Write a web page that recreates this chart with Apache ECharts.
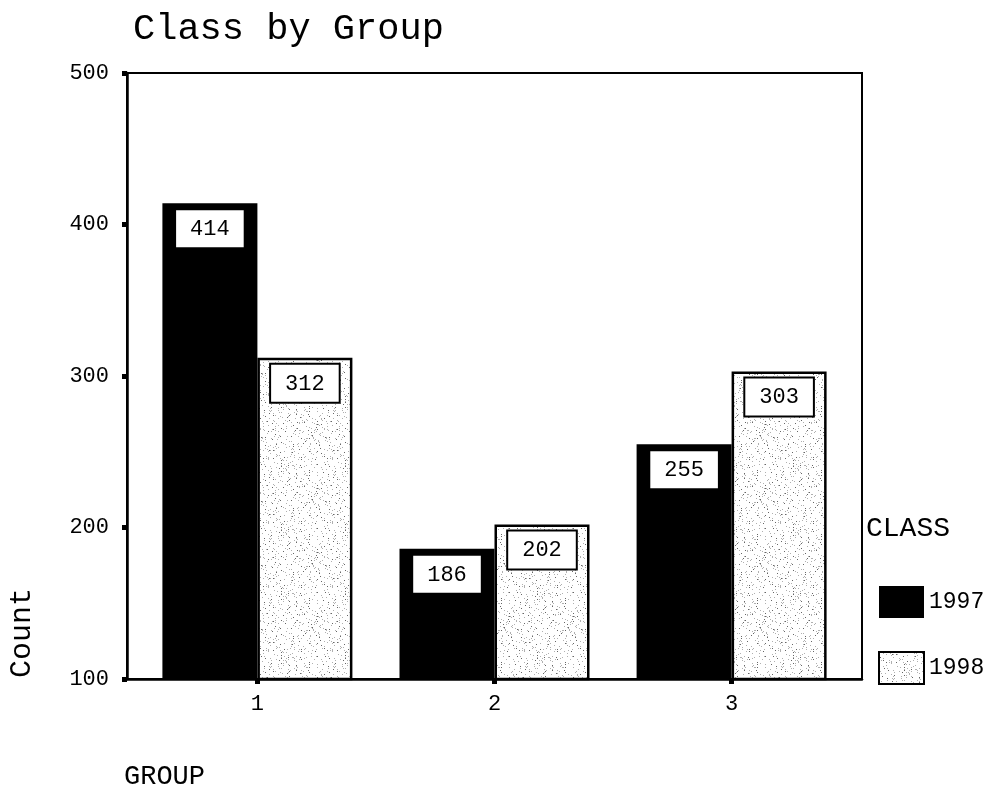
<!DOCTYPE html>
<html>
<head>
<meta charset="utf-8">
<script src="https://cdn.jsdelivr.net/npm/echarts@6/dist/echarts.min.js"></script>
<style>
html,body{margin:0;padding:0;background:#fff;}
#chart{width:989px;height:790px;}
</style>
</head>
<body>
<div id="chart"></div>
<script>
// ---- data ----
var groups = [1, 2, 3];
var groupLabels = ['1', '2', '3'];
var seriesNames = ['1997', '1998'];
var values1997 = [414, 186, 255];
var values1998 = [312, 202, 303];
var yTicks = [100, 200, 300, 400, 500];

// ---- stipple texture (deterministic) ----
function makeStipple() {
  var c = document.createElement('canvas');
  c.width = 64; c.height = 64;
  var g = c.getContext('2d');
  g.fillStyle = '#ffffff';
  g.fillRect(0, 0, 64, 64);
  for (var i = 0; i < 330; i++) {
    var x = (i * 37 + ((i * i) % 11)) % 64;
    var y = (i * i * 13 + i * 7 + (i >> 3)) % 64;
    g.fillStyle = (i % 4 === 0) ? '#666666' : '#b0b0b0';
    g.fillRect(x, y, 1, 1);
  }
  return c;
}
var stipple = makeStipple();

var FONT = '"Liberation Mono", "DejaVu Sans Mono", monospace';

function mk(vals) {
  return groups.map(function (g, i) { return [g, vals[i]]; });
}

var labelStyle = {
  show: true,
  position: 'insideTop',
  distance: 7,
  fontFamily: FONT,
  fontSize: 22,
  color: '#000',
  backgroundColor: '#fff',
  borderColor: '#000',
  borderWidth: 2,
  padding: [8, 14, 7, 14]
};

var chart = echarts.init(document.getElementById('chart'), null, {renderer: 'canvas'});
chart.setOption({
  animation: false,
  backgroundColor: '#fff',
  title: {
    text: 'Class by Group',
    left: 128,
    top: 6,
    textStyle: {fontFamily: FONT, fontSize: 37, fontWeight: 'normal', color: '#000'}
  },
  grid: {
    left: 127, right: 127, top: 73, bottom: 111,
    show: true, borderColor: '#000', borderWidth: 2, backgroundColor: 'transparent'
  },
  legend: {
    orient: 'vertical',
    left: 878,
    top: 586,
    padding: 0,
    itemWidth: 45,
    itemHeight: 32,
    itemGap: 33,
    icon: 'rect',
    data: seriesNames,
    textStyle: {fontFamily: FONT, fontSize: 23, color: '#000'}
  },
  graphic: [
    {
      type: 'text', left: 866, top: 515,
      style: {text: 'CLASS', fontFamily: FONT, fontSize: 28, fill: '#000'}
    },
    {
      type: 'text', x: 22, y: 633, rotation: Math.PI / 2,
      style: {text: 'Count', fontFamily: FONT, fontSize: 30, fill: '#000', align: 'center', verticalAlign: 'middle'}
    },
    {
      type: 'text', left: 124, top: 763,
      style: {text: 'GROUP', fontFamily: FONT, fontSize: 27, fill: '#000'}
    }
  ],
  xAxis: {
    type: 'value',
    min: 0.45,
    max: 3.55,
    splitLine: {show: false},
    axisLine: {show: true, lineStyle: {color: '#000', width: 2.5}},
    axisTick: {show: true, customValues: groups, length: 5, lineStyle: {color: '#000', width: 5}},
    axisLabel: {
      customValues: groups,
      margin: 14,
      fontFamily: FONT, fontSize: 22, color: '#000',
      formatter: function (v) { return groupLabels[groups.indexOf(v)] || ''; }
    }
  },
  yAxis: {
    type: 'value',
    min: 100,
    max: 500,
    interval: 100,
    splitLine: {show: false},
    axisLine: {show: true, lineStyle: {color: '#000', width: 2.5}},
    axisTick: {show: true, length: 5, lineStyle: {color: '#000', width: 5}},
    axisLabel: {
      margin: 18,
      fontFamily: FONT, fontSize: 22, color: '#000',
      formatter: function (v) { return yTicks.indexOf(v) >= 0 ? String(v) : ''; }
    }
  },
  series: [
    {
      name: seriesNames[0],
      type: 'bar',
      barWidth: 95,
      barGap: '0%',
      data: mk(values1997),
      itemStyle: {color: '#000', borderColor: '#000', borderWidth: 0},
      label: labelStyle
    },
    {
      name: seriesNames[1],
      type: 'bar',
      barWidth: 95,
      barGap: '0%',
      data: mk(values1998),
      itemStyle: {color: {image: stipple, repeat: 'repeat'}, borderColor: '#000', borderWidth: 2.5},
      label: labelStyle
    }
  ]
});
</script>
</body>
</html>
